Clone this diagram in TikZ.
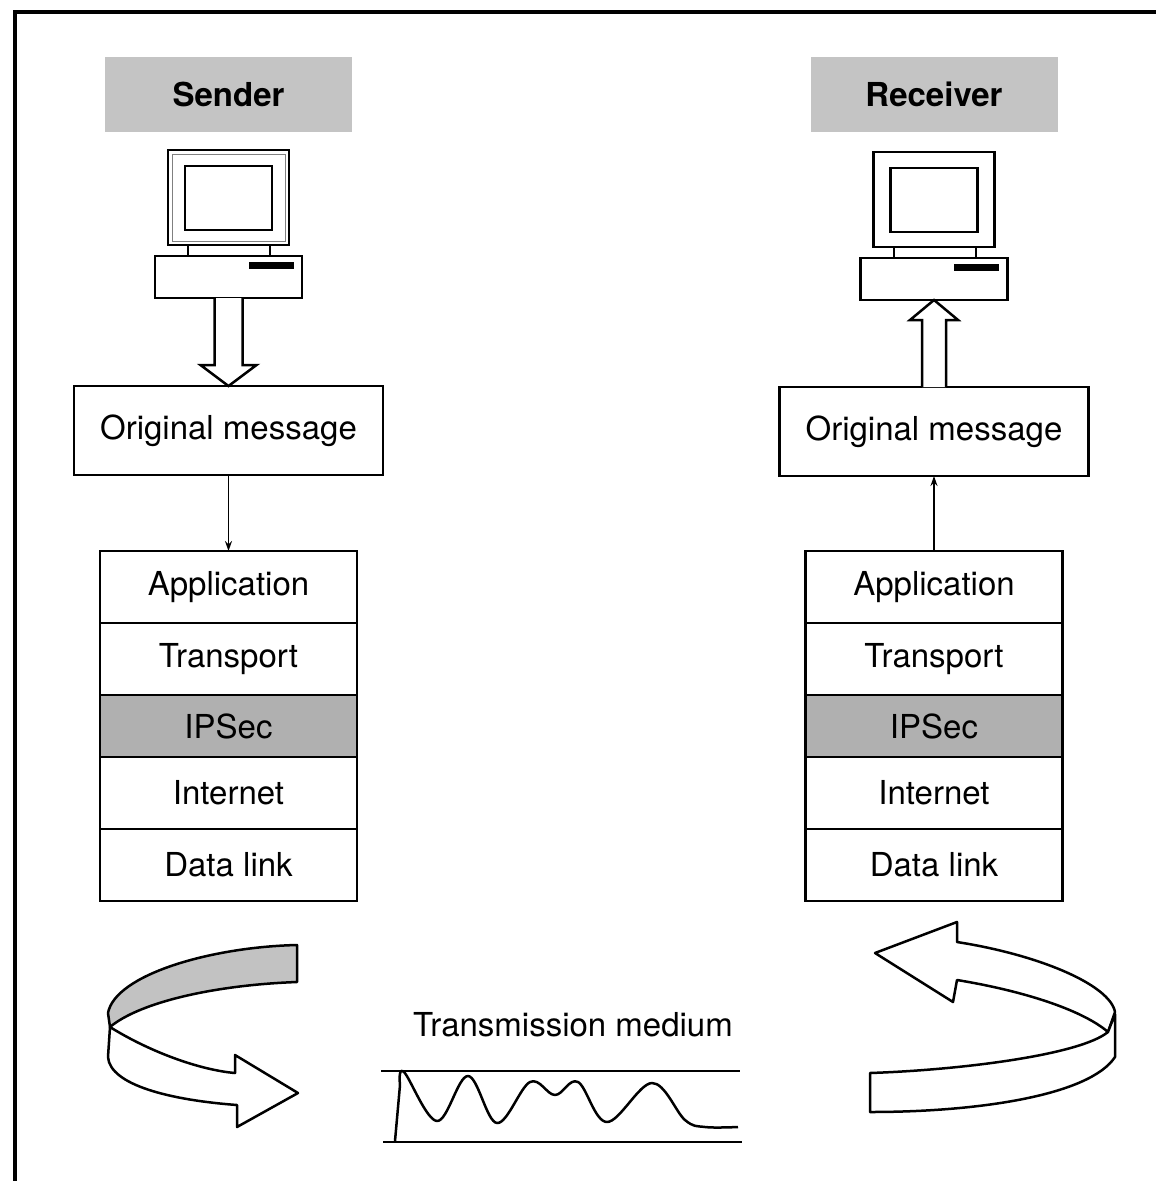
\documentclass[tikz,border=0pt]{standalone}
\usepackage{fontspec}
\setmainfont{TeX Gyre Heros}
\usetikzlibrary{positioning,calc,arrows.meta}

\newcommand\bigfont{\fontsize{33}{40}\selectfont}

\tikzset{
  tag/.style={fill=gray!46, minimum width=247, minimum height=75, font=\bigfont\bfseries},
  msgbox/.style={draw, line width=2.5pt, minimum width=309, minimum height=89, outer sep=0},
  layer/.style={draw, line width=2.5pt, minimum width=257, minimum height=72, outer sep=0},
  seclayer/.style={layer, fill=gray!62, minimum height=62},
  hollow/.style={draw, fill=white, line width=2.5pt, line join=miter},
  ribbon/.style={draw, fill=white, line width=2.5pt, line join=round},
  % desktop computer, origin at top centre of the monitor
  pc/.pic={
    \draw[line width=2.5pt] (-60.5,0) rectangle (60.5,95);
    \draw[line width=2.5pt] (-43.5,16) rectangle (43.5,80);
    \draw[line width=2pt] (-40.5,95) rectangle (41.5,106);
    \node[draw, line width=2.5pt, minimum width=147, minimum height=42, outer sep=0] (-base) at (0,127) {};
    \fill (20,112) rectangle (65,119);
  },
}

\begin{document}
\begin{tikzpicture}[x=1pt, y=-1pt, font=\bigfont, >={Stealth[length=10pt,width=7pt]}]
\useasboundingbox (0,0) rectangle (1156,1181);
\draw[line width=4pt] (15,1181) -- (15,12) -- (1156,12);

% sender side
\node[tag] (sname) at (228.5,94) {Sender};
\pic (spc) at (228.5,150) {pc};
\draw[gray, line width=1pt] (172,154) rectangle (285,241);
\node[msgbox] (smsg) at (228.5,430.5) {Original message};
\node[layer, anchor=north] (sapp) at (228.5,551) {Application};
\node[layer, below=0pt of sapp] (strn) {Transport};
\node[seclayer, below=0pt of strn] (ssec) {IPSec};
\node[layer, below=0pt of ssec] (snet) {Internet};
\node[layer, below=0pt of snet] (slnk) {Data link};
\draw[hollow] ($(spc-base.south)+(-14,0)$) |- ($(smsg.north)+(-28,-21)$) -- (smsg.north)
  -- ($(smsg.north)+(28,-21)$) -| ($(spc-base.south)+(14,0)$);
\draw[->, line width=1.5pt] (smsg) -- (sapp);

% receiver side
\node[tag] (rname) at (934,94.5) {Receiver};
\pic (rpc) at (934,152) {pc};
\node[msgbox] (rmsg) at (934,431.5) {Original message};
\node[layer, anchor=north] (rapp) at (934,551) {Application};
\node[layer, below=0pt of rapp] (rtrn) {Transport};
\node[seclayer, below=0pt of rtrn] (rsec) {IPSec};
\node[layer, below=0pt of rsec] (rnet) {Internet};
\node[layer, below=0pt of rnet] (rlnk) {Data link};
\draw[hollow] ($(rmsg.north)+(-12,0)$) |- ($(rpc-base.south)+(-24,20)$) -- (rpc-base.south)
  -- ($(rpc-base.south)+(24,20)$) -| ($(rmsg.north)+(12,0)$);
\draw[->, line width=1.5pt] (rapp) -- (rmsg);

% outgoing ribbon
\path[ribbon, fill=gray!48] (297,945) .. controls (210,947) and (115,975) .. (108,1013)
  -- (110,1027) .. controls (140,1002) and (215,985) .. (297,982) -- cycle;
\path[ribbon] (110,1027) .. controls (150,1052) and (200,1070) .. (235,1073) -- (235,1055)
  -- (298,1093) -- (237,1127) -- (237,1105) .. controls (170,1100) and (110,1085) .. (108,1057) -- cycle;

% incoming ribbon
\path[ribbon] (957,942) .. controls (1040,955) and (1110,985) .. (1115,1012) -- (1108,1032)
  .. controls (1085,1012) and (1030,992) .. (957,980) -- (953,1002) -- (875,953) -- (957,922) -- cycle;
\path[ribbon] (1108,1032) -- (1115,1014) -- (1115,1057) .. controls (1090,1095) and (980,1112) .. (870,1112)
  -- (870,1073) .. controls (960,1070) and (1080,1055) .. cycle;

% transmission medium
\node (tm) at (573,1025) {Transmission medium};
\draw[line width=2.5pt] (381,1071) -- (740,1071);
\draw[line width=2.5pt] (383,1142) -- (742,1142);
\draw[line width=2.5pt, line join=round] (395,1141) -- (400,1085) -- plot[smooth, tension=.6] coordinates
  {(400,1085) (404,1072) (437,1121) (468,1076) (497,1123) (530,1082) (555,1095) (578,1082)
   (607,1122) (652,1083) (685,1120) (705,1127) (738,1127)};
\end{tikzpicture}
\end{document}
